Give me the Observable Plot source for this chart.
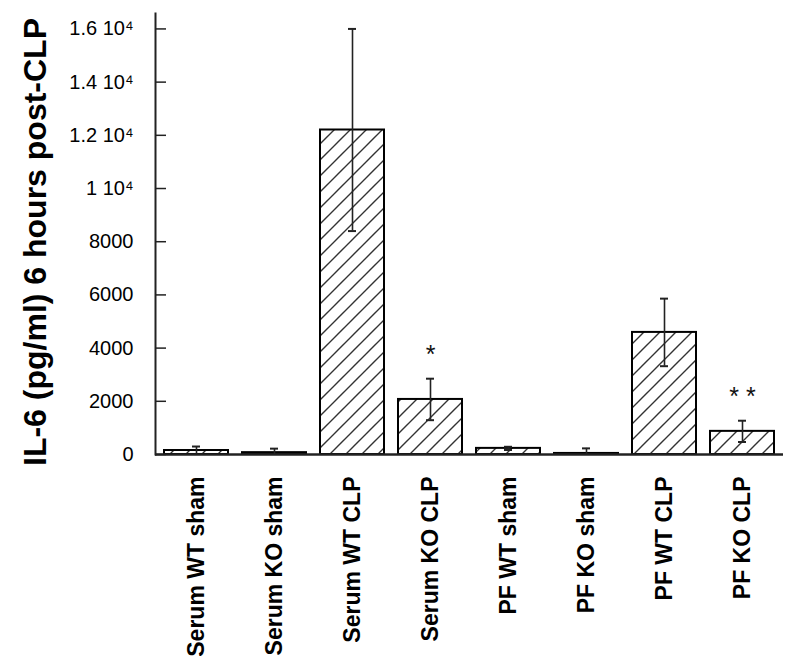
<!DOCTYPE html>
<html>
<head>
<meta charset="utf-8">
<script src="https://cdn.jsdelivr.net/npm/d3@7"></script>
<script src="https://cdn.jsdelivr.net/npm/@observablehq/plot@0.6"></script>
<style>
  html, body { margin: 0; padding: 0; background: #fff; }
  #chart { width: 800px; height: 670px; }
</style>
</head>
<body>
<div id="chart"></div>
<script>
// Data
const categories = ["Serum WT sham", "Serum KO sham", "Serum WT CLP", "Serum KO CLP",
                    "PF WT sham", "PF KO sham", "PF WT CLP", "PF KO CLP"];
const means = [150, 70, 12200, 2070, 230, 40, 4590, 870];
const errors = [150, 150, 3800, 780, 60, 190, 1270, 400];

const yTicks = [0, 2000, 4000, 6000, 8000, 10000, 12000, 14000, 16000];
const yTickLabels = ["0", "2000", "4000", "6000", "8000", "1 10⁴", "1.2 10⁴", "1.4 10⁴", "1.6 10⁴"];

const annotCats = ["Serum KO CLP", "PF KO CLP"];
const annotText = ["*", "* *"];

const yTitle = "IL-6 (pg/ml) 6 hours post-CLP";

const rows = categories.map((c, i) => ({
  cat: c, mean: means[i],
  hi: means[i] + errors[i],
  lo: Math.max(0, means[i] - errors[i])
}));
const annots = annotCats.map((c, i) => ({cat: c, text: annotText[i], hi: rows.find(r => r.cat === c).hi}));

const font = "'Liberation Sans', Arial, Helvetica, sans-serif";

const chart = Plot.plot({
  width: 800,
  height: 670,
  marginLeft: 155,
  marginRight: 17,
  marginTop: 13,
  marginBottom: 216,
  style: {fontFamily: font, background: "white", color: "black"},
  x: {domain: categories, paddingInner: 0.18, paddingOuter: 0.09, axis: null},
  y: {domain: [0, 16580], axis: null},
  marks: [
    Plot.barY(rows, {x: "cat", y: "mean", fill: "url(#hatch)", stroke: "black", strokeWidth: 2}),
    Plot.ruleX(rows, {x: "cat", y1: "lo", y2: "hi", stroke: "#222", strokeWidth: 1.6}),
    Plot.tickY(rows, {x: "cat", y: "hi", insetLeft: 28, insetRight: 28, stroke: "#222", strokeWidth: 2}),
    Plot.tickY(rows.filter(r => r.lo > 0), {x: "cat", y: "lo", insetLeft: 28, insetRight: 28, stroke: "#222", strokeWidth: 2}),
    Plot.ruleY([0], {stroke: "#222", strokeWidth: 2.5}),
    Plot.frame({anchor: "left", stroke: "#222", strokeWidth: 2}),
    Plot.axisY({ticks: yTicks, tickSize: -11, fill: "none", label: null, stroke: "#222", strokeWidth: 1.5}),
    Plot.axisY({ticks: yTicks, tickSize: 0, tickPadding: 22, label: null, fontSize: 20,
                tickFormat: d => yTickLabels[yTicks.indexOf(d)]}),
    Plot.axisX({tickSize: 0, tickPadding: 22, tickRotate: -90, label: null, fontSize: 23, fontWeight: "bold"}),
    Plot.text([yTitle], {frameAnchor: "left", textAnchor: "middle", rotate: -90, dx: -120, dy: 8,
                         fontSize: 32, fontWeight: "bold", fill: "black"}),
    Plot.text(annots, {x: "cat", y: "hi", text: "text", dy: -24, fontSize: 25, fill: "#111"})
  ]
});

chart.insertAdjacentHTML("afterbegin",
  '<defs><pattern id="hatch" patternUnits="userSpaceOnUse" width="16" height="16">' +
  '<rect width="16" height="16" fill="white"/>' +
  '<path d="M-4,4 L4,-4 M0,16 L16,0 M12,20 L20,12" stroke="#333" stroke-width="1.4"/>' +
  '</pattern></defs>');
chart.querySelectorAll('[aria-label="x-axis tick label"] text, g[aria-label="x-axis tick label"]').forEach(el => el.setAttribute("font-weight", "bold"));

document.getElementById("chart").appendChild(chart);
</script>
</body>
</html>
